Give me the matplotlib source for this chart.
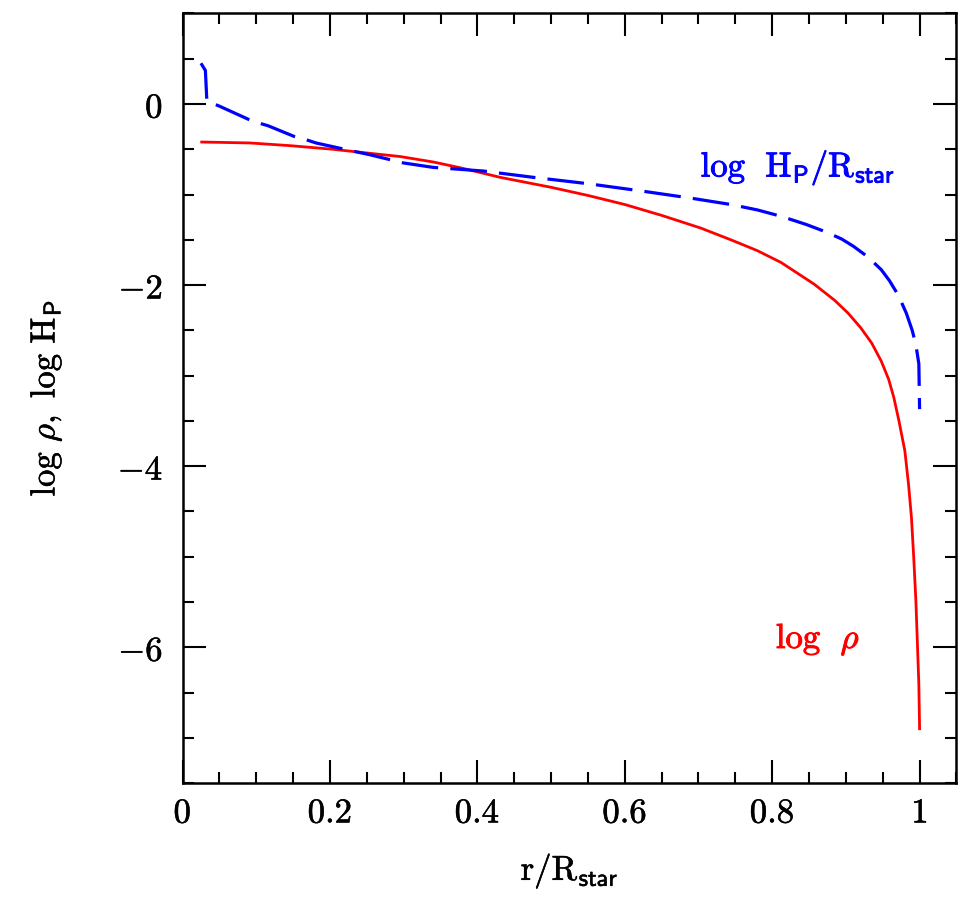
import matplotlib
matplotlib.use("Agg")
import matplotlib.pyplot as plt
import matplotlib.patheffects as pe
from matplotlib.ticker import MultipleLocator, FuncFormatter

plt.rcParams['mathtext.fontset'] = 'cm'
plt.rcParams['font.family'] = ['DejaVu Serif']

# log rho (red, solid)
r_rho = [0.026, 0.091, 0.146, 0.204, 0.249, 0.295, 0.34, 0.38, 0.431, 0.5, 0.55,
         0.6, 0.65, 0.703, 0.744, 0.78, 0.812, 0.857, 0.885, 0.903, 0.92, 0.935,
         0.948, 0.958, 0.965, 0.972, 0.98, 0.985, 0.989, 0.992, 0.995, 0.997,
         0.999, 1.0]
log_rho = [-0.42, -0.43, -0.46, -0.50, -0.54, -0.58, -0.64, -0.71, -0.81, -0.92, -1.01,
           -1.11, -1.23, -1.37, -1.50, -1.62, -1.75, -1.99, -2.17, -2.31, -2.47, -2.64,
           -2.84, -3.04, -3.24, -3.50, -3.83, -4.20, -4.57, -5.00, -5.49, -5.95,
           -6.41, -6.90]

# log H_P / R_star (blue, dashed)
r_hp = [0.025, 0.031, 0.033, 0.049, 0.095, 0.116, 0.14, 0.152, 0.166, 0.181, 0.231,
        0.254, 0.299, 0.34, 0.408, 0.476, 0.55, 0.622, 0.69, 0.744, 0.78, 0.812,
        0.846, 0.872, 0.894, 0.91, 0.93, 0.948, 0.959, 0.971, 0.982, 0.99, 0.995,
        0.999, 1.0]
log_hp = [0.45, 0.37, 0.03, -0.02, -0.19, -0.24, -0.32, -0.36, -0.39, -0.43, -0.52,
          -0.56, -0.65, -0.70, -0.74, -0.81, -0.88, -0.96, -1.04, -1.11, -1.17, -1.24,
          -1.33, -1.41, -1.49, -1.57, -1.69, -1.83, -1.95, -2.11, -2.31, -2.50, -2.66,
          -2.87, -3.37]

fig = plt.figure(figsize=(9.71, 8.98), dpi=100)
ax = fig.add_axes([0.188, 0.128, 0.797, 0.857])

ax.plot(r_rho, log_rho, color='red', lw=2.0)
ax.plot(r_hp, log_hp, color='blue', lw=2.3, linestyle=(0, (11.5, 3.8)))

ax.set_xlim(0, 1.05)
ax.set_ylim(-7.5, 1.0)

ax.xaxis.set_major_locator(MultipleLocator(0.2))
ax.xaxis.set_minor_locator(MultipleLocator(0.05))
ax.yaxis.set_major_locator(MultipleLocator(2))
ax.yaxis.set_minor_locator(MultipleLocator(0.5))
fmt = FuncFormatter(lambda v, p: r'$%g$' % round(v, 3))
ax.xaxis.set_major_formatter(fmt)
ax.yaxis.set_major_formatter(fmt)

thick = [pe.withStroke(linewidth=0.4, foreground='black')]
ax.tick_params(which='both', direction='in', top=True, right=True, width=1.5,
               labelsize=25)
ax.tick_params(which='major', length=16.5)
ax.tick_params(which='minor', length=8)
ax.tick_params(axis='x', pad=9)
ax.tick_params(axis='y', pad=14)
for lab in ax.get_xticklabels() + ax.get_yticklabels():
    lab.set_path_effects(thick)
for s in ax.spines.values():
    s.set_linewidth(1.8)

ax.set_xlabel(r'$\mathrm{r/R_{\mathsf{star}}}$', fontsize=25, labelpad=16,
              path_effects=thick)
ax.set_ylabel(r'$\mathrm{log}\ \rho,\ \mathrm{log\ H_{\mathsf{P}}}$', fontsize=25,
              labelpad=39, path_effects=thick)

ax.text(0.703, -0.80, r'$\mathrm{log\ \ H_{\mathsf{P}}/R_{\mathsf{star}}}$', color='blue',
        fontsize=25, ha='left', va='baseline',
        path_effects=[pe.withStroke(linewidth=0.7, foreground='blue')])
ax.text(0.805, -6.01, r'$\mathrm{log}\ \ \rho$', color='red', fontsize=25,
        ha='left', va='baseline',
        path_effects=[pe.withStroke(linewidth=0.7, foreground='red')])

plt.savefig('out.png', dpi=100)
